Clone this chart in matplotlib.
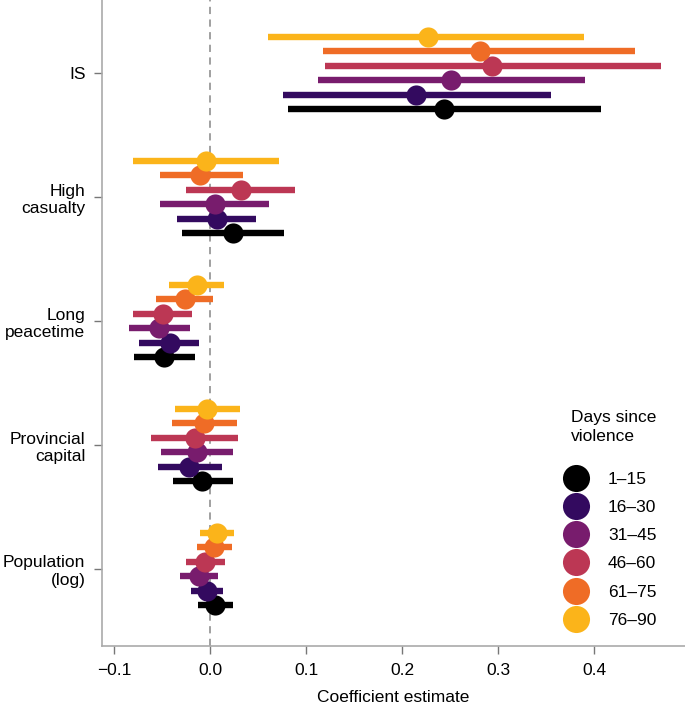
import numpy as np
import matplotlib.pyplot as plt
from matplotlib.lines import Line2D

plt.rcParams['font.family'] = ['Liberation Sans', 'DejaVu Sans']

variables = ["IS", "High\ncasualty", "Long\npeacetime", "Provincial\ncapital", "Population\n(log)"]
periods = ["1\u201315", "16\u201330", "31\u201345", "46\u201360", "61\u201375", "76\u201390"]
colors = ["#000000", "#330a5f", "#781c6d", "#bc3754", "#ef6c26", "#fbb41a"]

# estimates, one row per period (1-15 ... 76-90), one column per variable
est = [
    [0.244, 0.024, -0.048, -0.008, 0.005],
    [0.215, 0.007, -0.042, -0.022, -0.003],
    [0.251, 0.005, -0.053, -0.014, -0.012],
    [0.294, 0.032, -0.049, -0.016, -0.005],
    [0.281, -0.010, -0.026, -0.006, 0.004],
    [0.227, -0.004, -0.014, -0.003, 0.007],
]
lo = [
    [0.081, -0.029, -0.079, -0.039, -0.013],
    [0.076, -0.034, -0.074, -0.054, -0.020],
    [0.112, -0.052, -0.084, -0.051, -0.031],
    [0.120, -0.025, -0.080, -0.061, -0.025],
    [0.118, -0.052, -0.056, -0.040, -0.014],
    [0.060, -0.080, -0.043, -0.037, -0.010],
]
hi = [
    [0.407, 0.077, -0.016, 0.024, 0.024],
    [0.355, 0.048, -0.011, 0.012, 0.014],
    [0.391, 0.061, -0.021, 0.024, 0.008],
    [0.470, 0.088, -0.019, 0.029, 0.016],
    [0.443, 0.034, 0.003, 0.028, 0.023],
    [0.390, 0.072, 0.015, 0.031, 0.025],
]


def main():
    est_a = np.array(est)
    lo_a = np.array(lo)
    hi_a = np.array(hi)

    fig = plt.figure(figsize=(6.85, 7.04), dpi=100)
    ax = fig.add_axes([0.149, 0.0824, 0.851, 0.9176])

    base = np.arange(len(variables))
    step = 0.116
    for i in range(len(periods)):
        y = base + (2.5 - i) * step
        ax.hlines(y, lo_a[i], hi_a[i], color=colors[i], lw=4.6, zorder=2 + i)
        ax.plot(est_a[i], y, "o", ms=14.5, color=colors[i], mec="none", zorder=2 + i)

    ax.axvline(0, color="#999999", ls=(0, (4, 3)), lw=1.3, zorder=1)

    ax.set_xlim(-0.1125, 0.4948)
    ax.set_ylim(4.621, -0.589)
    ax.set_yticks(base)
    ax.set_yticklabels(variables, ha="right")
    ax.set_xticks([-0.1, 0.0, 0.1, 0.2, 0.3, 0.4])
    ax.set_xticklabels(["\u22120.1", "0.0", "0.1", "0.2", "0.3", "0.4"])
    ax.set_xlabel("Coefficient estimate", fontsize=12.5, labelpad=9)
    ax.tick_params(axis="both", labelsize=12.5, color="#777777", length=6, width=1, pad=6)

    for s in ["top", "right"]:
        ax.spines[s].set_visible(False)
    for s in ["left", "bottom"]:
        ax.spines[s].set_color("#aaaaaa")
        ax.spines[s].set_linewidth(1.2)

    handles = [Line2D([], [], ls="none", marker="o", ms=19.5, color=c, mec="none") for c in colors]
    leg = ax.legend(handles, periods, title="Days since\nviolence", loc="lower right",
                    bbox_to_anchor=(0.978, 0.004), frameon=False, fontsize=12.5,
                    title_fontsize=12.5, labelspacing=0.75, handletextpad=1.03,
                    handlelength=1.6, alignment="right")
    leg.get_title().set_linespacing(1.3)
    leg._legend_box.sep = 20

    fig.savefig("out.png", dpi=100)


if __name__ == "__main__":
    main()
